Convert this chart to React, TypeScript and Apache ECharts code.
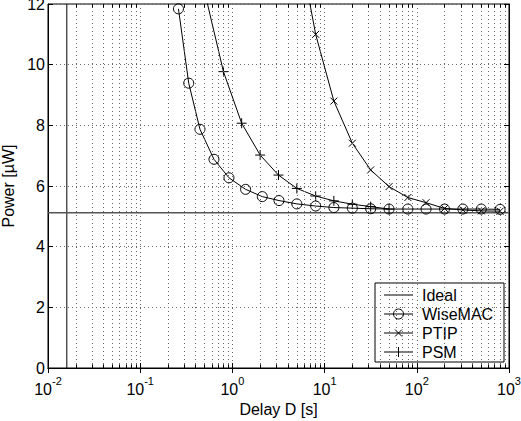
import React, { useEffect, useRef } from "react";
import * as echarts from "echarts";

const FONT = "'Liberation Sans', Arial, Helvetica, sans-serif";

const idealPower = 5.12;
const cutoffDelay = 0.016;

const wiseDelay = [0.26, 0.336, 0.445, 0.631, 0.918, 1.39, 2.11, 3.2, 5.0, 8.0, 12.6, 20, 31.6, 50, 80, 126, 200, 316, 500, 800];
const wisePower = [11.84, 9.39, 7.87, 6.88, 6.27, 5.89, 5.65, 5.52, 5.41, 5.34, 5.29, 5.27, 5.25, 5.24, 5.24, 5.24, 5.24, 5.24, 5.24, 5.23];

const ptipDelay = [5.0, 8.0, 12.6, 20, 31.6, 50, 80, 126, 200, 316, 500, 800];
const ptipPower = [14.3, 11.0, 8.8, 7.41, 6.53, 5.98, 5.62, 5.45, 5.26, 5.21, 5.18, 5.17];

const psmDelay = [0.5, 0.8, 1.26, 2.0, 3.16, 5.0, 8.0, 12.6, 20, 31.6, 50];
const psmPower = [12.4, 9.77, 8.07, 7.02, 6.36, 5.92, 5.67, 5.51, 5.4, 5.32, 5.24];

const legendNames = ["Ideal", "WiseMAC", "PTIP", "PSM"];

const xDecades = [-2, -1, 0, 1, 2, 3];
const minorMultipliers = [2, 3, 4, 5, 6, 7, 8, 9];

const zip = (xs: number[], ys: number[]) => xs.map((x, i) => [x, ys[i]]);

export default function App() {
  const ref = useRef<HTMLDivElement>(null);
  useEffect(() => {
    if (!ref.current) return;
    const chart = echarts.init(ref.current, undefined, { renderer: "svg" });

    const minorVals: number[] = [];
    xDecades.slice(0, -1).forEach((d) => {
      minorMultipliers.forEach((m) => minorVals.push(m * Math.pow(10, d)));
    });
    const gridStyle = { color: "#666", type: [1, 3] as any, width: 1 };
    const tickStyle = { color: "#000", type: "solid" as any, width: 1 };
    const markData: any[] = [];
    minorVals.forEach((v) => {
      markData.push({ xAxis: v, lineStyle: gridStyle });
      markData.push([
        { coord: [v, 0], lineStyle: tickStyle },
        { coord: [v, 0.12] },
      ]);
      markData.push([
        { coord: [v, 12], lineStyle: tickStyle },
        { coord: [v, 11.88] },
      ]);
    });

    const xLabel = (v: number) => {
      const e = Math.round(Math.log10(v));
      return `{b|10}{s|${e}}`;
    };

    const axisCommon = {
      type: "log" as const,
      logBase: 10,
      min: 0.01,
      max: 1000,
    };

    // legend drawn as graphic
    const lgX = 375, lgY = 283, lgW = 129, lgH = 79;
    const rowY = (i: number) => lgY + 12 + i * 19;
    const l0 = lgX + 9, l1 = lgX + 38, lc = (l0 + l1) / 2;
    const lstroke = { stroke: "#000", lineWidth: 1, fill: "none" };
    const legendEls: any[] = [
      { type: "rect", shape: { x: lgX, y: lgY, width: lgW, height: lgH }, style: { fill: "#fff", stroke: "#000", lineWidth: 1 } },
    ];
    legendNames.forEach((n, i) => {
      const y = rowY(i);
      legendEls.push({
        type: "line",
        shape: { x1: l0, y1: y, x2: l1, y2: y },
        style: i === 0 ? { stroke: "#555", lineWidth: 1.5 } : lstroke,
      });
      if (i === 1) legendEls.push({ type: "circle", shape: { cx: lc, cy: y, r: 5 }, style: lstroke });
      if (i === 2) {
        legendEls.push({ type: "line", shape: { x1: lc - 3.5, y1: y - 3.5, x2: lc + 3.5, y2: y + 3.5 }, style: lstroke });
        legendEls.push({ type: "line", shape: { x1: lc - 3.5, y1: y + 3.5, x2: lc + 3.5, y2: y - 3.5 }, style: lstroke });
      }
      if (i === 3) {
        legendEls.push({ type: "line", shape: { x1: lc, y1: y - 5, x2: lc, y2: y + 5 }, style: lstroke });
      }
      legendEls.push({
        type: "text",
        x: lgX + 47,
        y,
        style: { text: n, fontSize: 16, fontFamily: FONT, fill: "#000", verticalAlign: "middle", align: "left" },
      });
    });

    const option: any = {
      animation: false,
      textStyle: { fontFamily: FONT },
      grid: {
        left: 48,
        right: 12,
        top: 4,
        bottom: 53,
        show: true,
        borderColor: "#000",
        borderWidth: 1,
        backgroundColor: "transparent",
        outerBoundsMode: "none",
      },
      graphic: [{ type: "group", z: 100, children: legendEls }],
      xAxis: [
        {
          ...axisCommon,
          position: "bottom",
          name: "Delay D [s]",
          nameLocation: "middle",
          nameGap: 30,
          nameTextStyle: { fontSize: 16, color: "#000", fontFamily: FONT },
          axisLine: { show: true, lineStyle: { color: "#000" } },
          axisTick: { show: true, inside: true, length: 5, lineStyle: { color: "#000" } },
          axisLabel: {
            show: true,
            margin: 5,
            formatter: xLabel,
            rich: {
              b: { fontSize: 16, color: "#000", fontFamily: FONT, padding: [8, 0, 0, 0] },
              s: { fontSize: 11, color: "#000", fontFamily: FONT, padding: [0, 0, 8, 0] },
            },
          },
          splitLine: { show: true, lineStyle: gridStyle },
          minorTick: { show: false },
        },
        {
          ...axisCommon,
          position: "top",
          axisLine: { show: true, lineStyle: { color: "#000" } },
          axisTick: { show: true, inside: true, length: 5, lineStyle: { color: "#000" } },
          axisLabel: { show: false },
          splitLine: { show: false },
        },
      ],
      yAxis: [
        {
          type: "value",
          min: 0,
          max: 12,
          interval: 2,
          position: "left",
          name: "Power [µW]",
          nameLocation: "middle",
          nameGap: 26,
          nameTextStyle: { fontSize: 16, color: "#000", fontFamily: FONT },
          axisLine: { show: true, lineStyle: { color: "#000" } },
          axisTick: { show: true, inside: true, length: 5, lineStyle: { color: "#000" } },
          axisLabel: { fontSize: 16, color: "#000", fontFamily: FONT, margin: 3 },
          splitLine: { show: true, lineStyle: gridStyle },
        },
        {
          type: "value",
          min: 0,
          max: 12,
          interval: 2,
          position: "right",
          axisLine: { show: true, lineStyle: { color: "#000" } },
          axisTick: { show: true, inside: true, length: 5, lineStyle: { color: "#000" } },
          axisLabel: { show: false },
          splitLine: { show: false },
        },
      ],
      series: [
        {
          name: "minorGrid",
          type: "line",
          data: [],
          silent: true,
          markLine: {
            silent: true,
            symbol: ["none", "none"],
            label: { show: false },
            data: markData,
          },
        },
        {
          name: "cutoff",
          type: "line",
          data: [
            [cutoffDelay, 0],
            [cutoffDelay, 12],
          ],
          symbol: "none",
          lineStyle: { color: "#000", width: 1 },
          silent: true,
        },
        {
          name: "Ideal",
          type: "line",
          data: [
            [0.01, idealPower],
            [1000, idealPower],
          ],
          symbol: "none",
          lineStyle: { color: "#555", width: 1.5 },
        },
        {
          name: "WiseMAC",
          type: "line",
          data: zip(wiseDelay, wisePower),
          symbol: "circle",
          symbolSize: 10,
          clip: true,
          itemStyle: { color: "rgba(0,0,0,0)", borderColor: "#000", borderWidth: 1 },
          lineStyle: { color: "#000", width: 1 },
        },
        {
          name: "PTIP",
          type: "line",
          data: zip(ptipDelay, ptipPower),
          symbol: "path://M0,0L10,10M10,0L0,10",
          symbolSize: 7,
          clip: true,
          itemStyle: { color: "rgba(0,0,0,0)", borderColor: "#000", borderWidth: 1 },
          lineStyle: { color: "#000", width: 1 },
        },
        {
          name: "PSM",
          type: "line",
          data: zip(psmDelay, psmPower),
          symbol: "path://M5,0L5,10M0,5L10,5",
          symbolSize: 10,
          clip: true,
          itemStyle: { color: "rgba(0,0,0,0)", borderColor: "#000", borderWidth: 1 },
          lineStyle: { color: "#000", width: 1 },
        },
      ],
    };
    chart.setOption(option);
    return () => chart.dispose();
  }, []);
  return <div ref={ref} style={{ width: 521, height: 421, position: "absolute", left: 0, top: 0, background: "#fff" }} />;
}
